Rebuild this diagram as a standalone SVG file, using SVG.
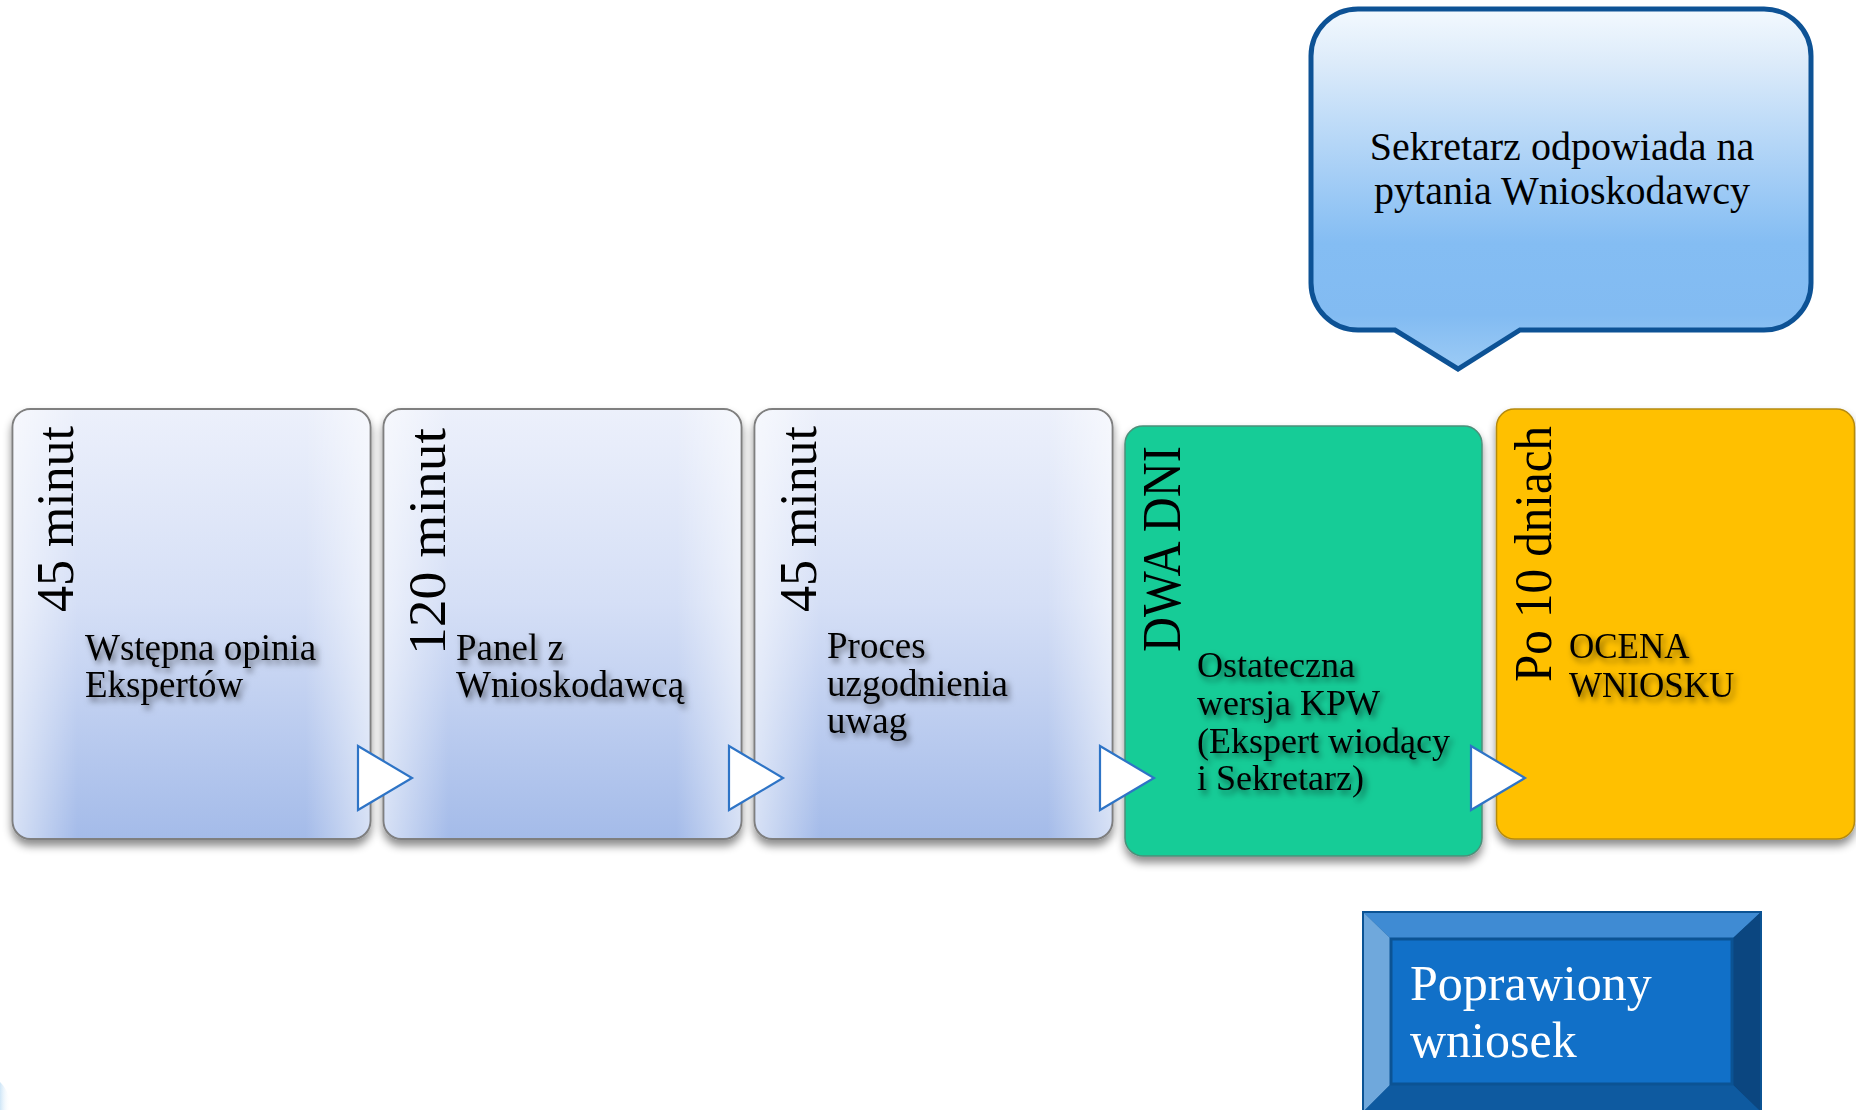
<svg xmlns="http://www.w3.org/2000/svg" width="1856" height="1110" viewBox="0 0 1856 1110">
<defs>
<linearGradient id="gBlue" x1="0" y1="0" x2="0" y2="1">
<stop offset="0" stop-color="#ECF0FB"/>
<stop offset="0.45" stop-color="#D5DFF6"/>
<stop offset="1" stop-color="#A4BBE9"/>
</linearGradient>
<linearGradient id="gEdge" x1="0" y1="0" x2="1" y2="0">
<stop offset="0" stop-color="#FFFFFF" stop-opacity="0.55"/>
<stop offset="0.18" stop-color="#FFFFFF" stop-opacity="0"/>
<stop offset="0.82" stop-color="#FFFFFF" stop-opacity="0"/>
<stop offset="1" stop-color="#FFFFFF" stop-opacity="0.55"/>
</linearGradient>
<linearGradient id="gCall" x1="0" y1="0" x2="0" y2="1">
<stop offset="0" stop-color="#F3F9FE"/>
<stop offset="0.15" stop-color="#DCEBFA"/>
<stop offset="0.45" stop-color="#A7CFF6"/>
<stop offset="0.65" stop-color="#84BDF3"/>
<stop offset="0.85" stop-color="#82BBF2"/>
<stop offset="1" stop-color="#9CCBF5"/>
</linearGradient>
<linearGradient id="gSliver" x1="0" y1="0" x2="1" y2="0">
<stop offset="0" stop-color="#CFE6F7"/>
<stop offset="1" stop-color="#FFFFFF" stop-opacity="0"/>
</linearGradient>
<filter id="boxShadow" x="-10%" y="-10%" width="120%" height="125%">
<feGaussianBlur in="SourceAlpha" stdDeviation="4"/>
<feOffset dx="0" dy="6" result="b"/>
<feFlood flood-color="#000" flood-opacity="0.45"/>
<feComposite in2="b" operator="in" result="s"/>
<feMerge><feMergeNode in="s"/><feMergeNode in="SourceGraphic"/></feMerge>
</filter>
<filter id="txtShadow" x="-20%" y="-30%" width="140%" height="170%">
<feGaussianBlur in="SourceAlpha" stdDeviation="3"/>
<feOffset dx="3" dy="4" result="b"/>
<feFlood flood-color="#000" flood-opacity="0.55"/>
<feComposite in2="b" operator="in" result="s"/>
<feMerge><feMergeNode in="s"/><feMergeNode in="SourceGraphic"/></feMerge>
</filter>
</defs>
<style>
.box{stroke:#7F7F7F;stroke-width:2;filter:url(#boxShadow)}
.blue{fill:url(#gBlue)}
.edge{fill:url(#gEdge);stroke:none}
.green{fill:#13CC97;stroke:#4E8F7A;stroke-width:1.5;filter:url(#boxShadow)}
.orange{fill:#FFC000;stroke:#B58A10;stroke-width:1.5;filter:url(#boxShadow)}
.vt{font-family:"Liberation Serif","Times New Roman",serif;font-size:53px;fill:#000}
.mt{font-family:"Liberation Serif","Times New Roman",serif;font-size:37px;fill:#000;filter:url(#txtShadow)}
.ct{font-family:"Liberation Serif","Times New Roman",serif;font-size:40px;fill:#000;text-anchor:middle}
.bt{font-family:"Liberation Serif","Times New Roman",serif;font-size:50px;fill:#FFFFFF}
.tri{fill:#FFFFFF;stroke:#2E74C6;stroke-width:2.2;stroke-linejoin:miter}
</style>
<rect width="1856" height="1110" fill="#FFFFFF"/>
<path d="M0,1082 C8,1090 11,1100 10,1110 L0,1110 Z" fill="url(#gSliver)"/>

<g id="callout">
<path d="M1358,9 H1764 A47,47 0 0 1 1811,56 V283 A47,47 0 0 1 1764,330 H1520 L1458,369 L1395,330 H1358 A47,47 0 0 1 1311,283 V56 A47,47 0 0 1 1358,9 Z" fill="url(#gCall)" stroke="#0D5295" stroke-width="5"/>
<text class="ct" x="1562" y="160">Sekretarz odpowiada na</text>
<text class="ct" x="1562" y="204">pytania Wnioskodawcy</text>
</g>

<g id="step1">
<rect class="box blue" x="12.5" y="409" width="358" height="430" rx="18"/>
<rect class="edge" x="13.5" y="410" width="356" height="428" rx="17"/>
<text class="vt" transform="translate(73,612) rotate(-90)" textLength="186" lengthAdjust="spacingAndGlyphs">45 minut</text>
<text class="mt" x="85" y="660">Wstępna opinia</text>
<text class="mt" x="85" y="697">Ekspertów</text>
</g>

<g id="step2">
<rect class="box blue" x="383.5" y="409" width="358" height="430" rx="18"/>
<rect class="edge" x="384.5" y="410" width="356" height="428" rx="17"/>
<text class="vt" transform="translate(445,655) rotate(-90)" textLength="227" lengthAdjust="spacingAndGlyphs">120 minut</text>
<text class="mt" x="456" y="660">Panel z</text>
<text class="mt" x="456" y="697">Wnioskodawcą</text>
</g>

<g id="step3">
<rect class="box blue" x="754.5" y="409" width="358" height="430" rx="18"/>
<rect class="edge" x="755.5" y="410" width="356" height="428" rx="17"/>
<text class="vt" transform="translate(816,612) rotate(-90)" textLength="186" lengthAdjust="spacingAndGlyphs">45 minut</text>
<text class="mt" x="827" y="658">Proces</text>
<text class="mt" x="827" y="696">uzgodnienia</text>
<text class="mt" x="827" y="733">uwag</text>
</g>

<g id="step4">
<rect class="green" x="1125" y="426" width="357" height="430" rx="18"/>
<text class="vt" style="font-size:55px" transform="translate(1180,652) rotate(-90)" textLength="206" lengthAdjust="spacingAndGlyphs">DWA DNI</text>
<text class="mt" style="font-size:36px" x="1197" y="677">Ostateczna</text>
<text class="mt" style="font-size:36px" x="1197" y="715">wersja KPW</text>
<text class="mt" style="font-size:36px" x="1197" y="753">(Ekspert wiodący</text>
<text class="mt" style="font-size:36px" x="1197" y="790">i Sekretarz)</text>
</g>

<g id="step5">
<rect class="orange" x="1496.5" y="409" width="358" height="430" rx="18"/>
<text class="vt" transform="translate(1551,682) rotate(-90)" textLength="256" lengthAdjust="spacingAndGlyphs">Po 10 dniach</text>
<text class="mt" style="font-size:35px" x="1569" y="658">OCENA</text>
<text class="mt" style="font-size:35px" x="1569" y="697">WNIOSKU</text>
</g>

<g id="connectors">
<polygon class="tri" points="358,746 412,778 358,810"/>
<polygon class="tri" points="729,746 783,778 729,810"/>
<polygon class="tri" points="1100,746 1154,778 1100,810"/>
<polygon class="tri" points="1471,746 1525,778 1471,810"/>
</g>

<g id="poprawiony">
<rect x="1363" y="912" width="398" height="200" fill="#0B5394"/>
<polygon points="1363,912 1761,912 1732,939 1391,939" fill="#3F8BD3"/>
<polygon points="1363,912 1391,939 1391,1084 1363,1112" fill="#6FA8DC"/>
<polygon points="1761,912 1761,1112 1732,1084 1732,939" fill="#0B4680"/>
<polygon points="1363,1112 1391,1084 1732,1084 1761,1112" fill="#0E5AA0"/>
<rect x="1391" y="939" width="341" height="145" fill="#1170C8" stroke="#0B5394" stroke-width="3"/>
<rect x="1363" y="912" width="398" height="200" fill="none" stroke="#0B5394" stroke-width="2"/>
<text class="bt" x="1410" y="1000">Poprawiony</text>
<text class="bt" x="1410" y="1057">wniosek</text>
</g>
</svg>
